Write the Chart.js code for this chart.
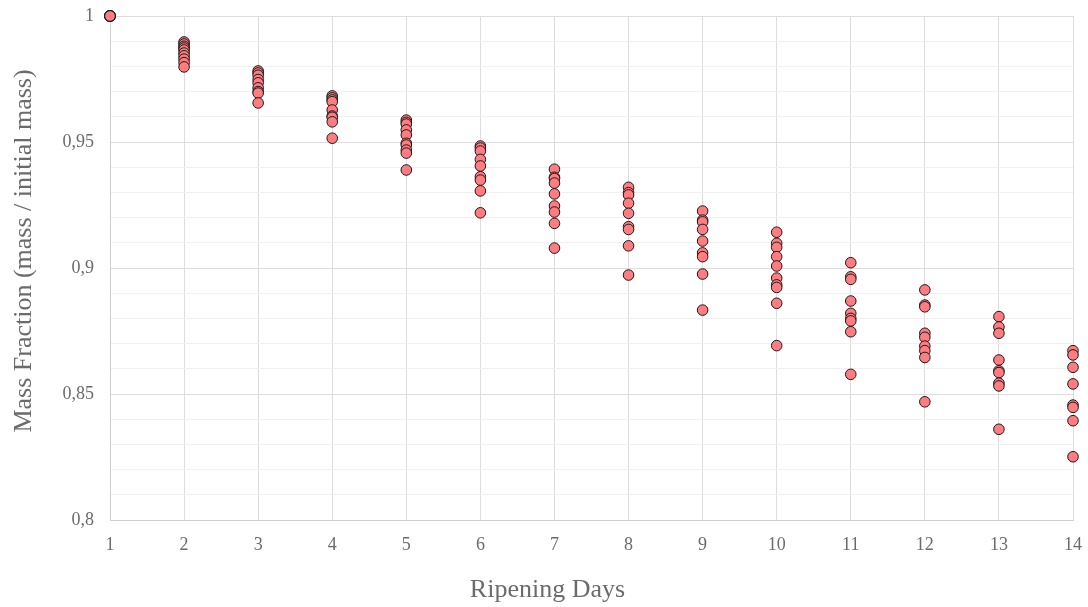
<!DOCTYPE html>
<html>
<head>
<meta charset="utf-8">
<script src="https://cdn.jsdelivr.net/npm/chart.js@4"></script>
<style>
  html, body { margin: 0; padding: 0; background: #ffffff; }
  #wrap { width: 1088px; height: 607px; }
</style>
</head>
<body>
<div id="wrap"><canvas id="c" width="1088" height="607"></canvas></div>
<script>
// Ripening days on the x axis
const days = [1, 2, 3, 4, 5, 6, 7, 8, 9, 10, 11, 12, 13, 14];

// Mass fraction (mass / initial mass) measured for each sample, per day
const day1  = [1, 1, 1, 1, 1, 1, 1, 1, 1, 1];
const day2  = [0.9897, 0.9889, 0.9880, 0.9873, 0.9865, 0.9853, 0.9842, 0.9829, 0.9815, 0.9798];
const day3  = [0.9782, 0.9774, 0.9765, 0.9748, 0.9735, 0.9715, 0.9700, 0.9694, 0.9655];
const day4  = [0.9683, 0.9675, 0.9667, 0.9660, 0.9627, 0.9603, 0.9598, 0.9580, 0.9515];
const day5  = [0.9587, 0.9578, 0.9571, 0.9548, 0.9528, 0.9495, 0.9488, 0.9468, 0.9456, 0.9389];
const day6  = [0.9484, 0.9476, 0.9464, 0.9431, 0.9405, 0.9362, 0.9349, 0.9306, 0.9219];
const day7  = [0.9392, 0.9360, 0.9355, 0.9337, 0.9294, 0.9246, 0.9222, 0.9177, 0.9079];
const day8  = [0.9320, 0.9299, 0.9290, 0.9257, 0.9217, 0.9164, 0.9153, 0.9088, 0.8972];
const day9  = [0.9226, 0.9190, 0.9183, 0.9153, 0.9107, 0.9060, 0.9045, 0.8976, 0.8833];
const day10 = [0.9142, 0.9098, 0.9082, 0.9045, 0.9008, 0.8960, 0.8933, 0.8923, 0.8860, 0.8692];
const day11 = [0.9021, 0.8965, 0.8955, 0.8869, 0.8820, 0.8800, 0.8790, 0.8747, 0.8578];
const day12 = [0.8913, 0.8853, 0.8846, 0.8741, 0.8725, 0.8690, 0.8672, 0.8645, 0.8469];
const day13 = [0.8807, 0.8766, 0.8741, 0.8635, 0.8592, 0.8585, 0.8543, 0.8532, 0.8360];
const day14 = [0.8672, 0.8655, 0.8606, 0.8540, 0.8456, 0.8447, 0.8394, 0.8251];

const massByDay = [day1, day2, day3, day4, day5, day6, day7, day8, day9, day10, day11, day12, day13, day14];

// Value-axis labels (comma decimal)
const yTickLabels = { '1': '1', '0.95': '0,95', '0.9': '0,9', '0.85': '0,85', '0.8': '0,8' };

const xTitle = 'Ripening Days';
const yTitle = 'Mass Fraction (mass / initial mass)';

const points = [];
days.forEach((d, i) => massByDay[i].forEach(v => points.push({ x: d, y: v })));

const FONT = "'Liberation Serif', 'Times New Roman', serif";
const TEXT = '#6b6b6b';

function isMajor(v) {
  return Math.round(v * 100) % 5 === 0;
}

// Axis titles, placed relative to the plot area
const axisTitles = {
  id: 'axisTitles',
  afterDraw(chart) {
    const { ctx, chartArea } = chart;
    ctx.save();
    ctx.fillStyle = TEXT;
    ctx.font = `26px ${FONT}`;
    ctx.textAlign = 'center';
    ctx.textBaseline = 'middle';
    const cx = (chartArea.left + chartArea.right) / 2;
    ctx.fillText(xTitle, cx - 44, chartArea.bottom + 70);
    ctx.translate(24, (chartArea.top + chartArea.bottom) / 2 - 17);
    ctx.rotate(-Math.PI / 2);
    ctx.fillText(yTitle, 0, 0);
    ctx.restore();
  }
};

new Chart(document.getElementById('c'), {
  type: 'scatter',
  data: {
    datasets: [{
      data: points,
      backgroundColor: '#ff7c80',
      borderColor: '#1a1a1a',
      borderWidth: 1,
      pointRadius: 5.3,
      pointHoverRadius: 5.3,
      clip: false
    }]
  },
  options: {
    responsive: false,
    animation: false,
    events: [],
    layout: { padding: { left: 0, top: 16, right: 15, bottom: 0 } },
    plugins: { legend: { display: false }, tooltip: { enabled: false } },
    scales: {
      x: {
        type: 'linear',
        min: 1,
        max: 14,
        afterBuildTicks: s => { s.ticks = days.map(d => ({ value: d })); },
        afterFit: s => { s.height = 87; s.paddingLeft = 0; s.paddingRight = 0; },
        grid: { color: '#dddddd', lineWidth: 1, drawTicks: false },
        border: { color: '#d0d0d0', width: 1 },
        ticks: {
          padding: 14,
          color: TEXT,
          font: { family: FONT, size: 18 },
          callback: v => String(v)
        }
      },
      y: {
        type: 'linear',
        min: 0.8,
        max: 1,
        afterBuildTicks: s => {
          const t = [];
          for (let k = 80; k <= 100; k++) t.push({ value: k / 100 });
          s.ticks = t;
        },
        afterFit: s => { s.width = 110; s.paddingTop = 0; s.paddingBottom = 0; },
        grid: {
          drawTicks: false,
          color: ctx => (ctx.tick && isMajor(ctx.tick.value)) ? '#dddddd' : '#f0f0f0',
          lineWidth: 1
        },
        border: { color: '#d0d0d0', width: 1 },
        ticks: {
          padding: 16,
          color: TEXT,
          font: { family: FONT, size: 18 },
          autoSkip: false,
          callback: v => {
            if (!isMajor(v)) return '';
            const key = String(Math.round(v * 100) / 100);
            return yTickLabels[key] ?? '';
          }
        }
      }
    }
  },
  plugins: [axisTitles]
});
</script>
</body>
</html>
